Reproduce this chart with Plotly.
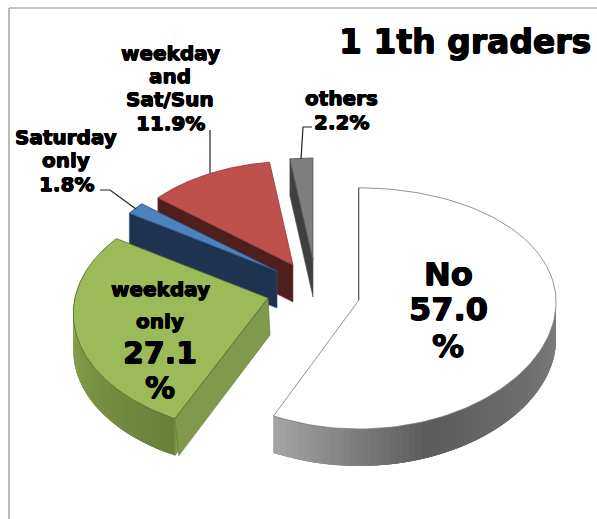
import math
import plotly.graph_objects as go

# ---- data ----
categories = ["No", "weekday only", "Saturday only", "weekday and Sat/Sun", "others"]
shares = [57.0, 27.1, 1.8, 11.9, 2.2]
title_text = "1 1th graders"

# ---- pie projection (pixels of the 597x519 canvas) ----
RX, RY = 197.0, 120.0
DEPTH = 37.0
apex = {"No": (359, 300), "weekday only": (268, 298), "Saturday only": (277, 271),
        "weekday and Sat/Sun": (293, 265), "others": (313, 260)}
scale = {"No": 1.0, "weekday only": 0.98, "Saturday only": 0.925,
         "weekday and Sat/Sun": 0.925, "others": 0.91}
persp_x = {"No": 0.02, "weekday only": 0.13, "Saturday only": 0.07,
           "weekday and Sat/Sun": 0.07, "others": 0.07}
persp_y = {"No": 0.07, "weekday only": 0.13, "Saturday only": 0.07,
           "weekday and Sat/Sun": 0.07, "others": 0.07}
top_col = {"No": "#ffffff", "weekday only": "#9bbb59", "Saturday only": "#4f81bd",
           "weekday and Sat/Sun": "#c0504d", "others": "#7f7f7f"}
face_col = {"No": "#555555", "weekday only": "#7f9a4a", "Saturday only": "#1d3350",
            "weekday and Sat/Sun": "#4f1f1e", "others": "#3f3f3f"}
edge_col = {"No": "#777777", "weekday only": "#55682f", "Saturday only": "#2f5080",
            "weekday and Sat/Sun": "#8a3a38", "others": "#555555"}
# outer wall shading stops: (clockwise degrees, rgb)
wall_stops = {
    "No": [(90, (128, 128, 128)), (160, (92, 92, 92)), (205.2, (165, 165, 165))],
    "weekday only": [(205.2, (105, 128, 58)), (240, (122, 148, 70)), (285, (150, 178, 88))],
}


def project(cat, deg):
    t = math.radians(deg)
    s, c = math.sin(t), math.cos(t)
    ax, ay = apex[cat]
    return (ax + RX * s * scale[cat] / (1 + persp_x[cat] * c),
            ay - RY * c * scale[cat] / (1 + persp_y[cat] * c))


def arc(cat, a0, a1, n=120):
    return [project(cat, a0 + (a1 - a0) * i / n) for i in range(n + 1)]


def poly(pts, fill, line=None, width=0.7):
    xs = [p[0] for p in pts] + [pts[0][0]]
    ys = [p[1] for p in pts] + [pts[0][1]]
    return go.Scatter(x=xs, y=ys, mode="lines", fill="toself", fillcolor=fill,
                      line=dict(color=line or fill, width=width), hoverinfo="skip",
                      showlegend=False)


def wall_colour(stops, d):
    for (d0, c0), (d1, c1) in zip(stops, stops[1:]):
        if d <= d1:
            f = max(0, (d - d0) / (d1 - d0))
            return "rgb(%d,%d,%d)" % tuple(c0[i] + (c1[i] - c0[i]) * f for i in range(3))
    return "rgb(%d,%d,%d)" % stops[-1][1]


angles = []
acc = 0.0
for v in shares:
    angles.append((acc, acc + v * 3.6))
    acc += v * 3.6

fig = go.Figure()
order = ["others", "weekday and Sat/Sun", "Saturday only", "weekday only", "No"]
for cat in order:
    a0, a1 = angles[categories.index(cat)]
    ax, ay = apex[cat]
    rim0 = project(cat, a0)
    # radial side face below the start edge
    fig.add_trace(poly([(ax, ay), rim0, (rim0[0], rim0[1] + DEPTH), (ax, ay + DEPTH)],
                       face_col[cat], edge_col[cat] if cat != "No" else "#555555",
                       2.0 if cat == "No" else 0.6))
    # outer curved wall, shaded in overlapping steps so no seams show
    if cat in wall_stops:
        stops = wall_stops[cat]
        lo, hi = max(a0, stops[0][0]), min(a1, stops[-1][0])
        if cat == "No":
            lo = 92
        steps = 60
        dstep = (hi - lo) / steps
        for i in range(steps):
            d0 = lo + dstep * i
            d1 = min(hi, d0 + 3 * dstep)
            pts = arc(cat, d0, d1, 6)
            low = [(x, y + DEPTH) for x, y in reversed(pts)]
            fig.add_trace(poly(pts + low, wall_colour(stops, d0 + dstep / 2), None, 0))
    # start radial face for green
    if cat == "weekday only":
        fig.add_trace(poly([(ax, ay), rim0, (rim0[0] + 4, rim0[1] + DEPTH), (ax + 2, ay + DEPTH)],
                           "#80994c", "#5f7436", 0.6))
    # top surface
    fig.add_trace(poly([(ax, ay)] + arc(cat, a0, a1), top_col[cat], edge_col[cat], 0.8))

# leader lines
leaders_x = [[100, 110, 136], [210, 210], [312, 303, 301]]
leaders_y = [[190, 190, 209], [130, 173], [127, 127, 159]]
for lx, ly in zip(leaders_x, leaders_y):
    fig.add_trace(go.Scatter(x=lx, y=ly, mode="lines", line=dict(color="#222222", width=1.2),
                             hoverinfo="skip", showlegend=False))

# picture frame
for x0, y0, x1, y1 in [(9, 8, 597, 8), (9, 8, 9, 519)]:
    fig.add_shape(type="line", x0=x0, y0=y0, x1=x1, y1=y1, xref="x", yref="y",
                  line=dict(color="#8c8c8c", width=1.2))

FONT = "DejaVu Sans"
THICK = "0.6px 0 0 #000, -0.6px 0 0 #000, 0 0.5px 0 #000, 0 -0.5px 0 #000"


def label(text, x, y, size):
    fig.add_annotation(text=text, x=x, y=y, xref="x", yref="y", showarrow=False,
                       xanchor="center", yanchor="middle",
                       font=dict(family=FONT, size=size, color="#000000", weight=700,
                                 shadow=THICK))


label(title_text, 465, 41, 33)
for t, y in zip(["weekday", "and", "Sat/Sun", f"{shares[3]}%"], [53, 76, 99, 123]):
    label(t, 170, y, 20)
for t, y in zip(["Saturday", "only", f"{shares[2]}%"], [137, 160, 184]):
    label(t, 66, y, 20)
for t, y in zip(["others", f"{shares[4]}%"], [98, 122]):
    label(t, 341, y, 20)
for t, y, s in zip(["weekday", "only", f"{shares[1]:.1f}", "%"], [289, 321, 352, 387], [20, 20, 30, 30]):
    label(t, 160, y, s)
for t, y in zip(["No", f"{shares[0]:.1f}", "%"], [274, 309, 346]):
    label(t, 448, y, 32)

fig.update_layout(
    width=597, height=519, margin=dict(l=0, r=0, t=0, b=0),
    paper_bgcolor="white", plot_bgcolor="white", showlegend=False,
    xaxis=dict(range=[0, 597], visible=False, fixedrange=True),
    yaxis=dict(range=[519, 0], visible=False, fixedrange=True),
)
fig.write_html("out.html", config={"displayModeBar": False},
               post_script="document.body.style.margin='0';")
